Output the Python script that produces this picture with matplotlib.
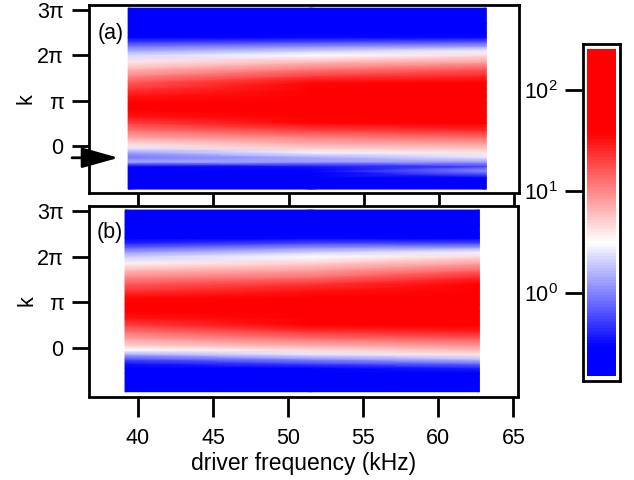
import numpy as np
import matplotlib
matplotlib.use('Agg')
import matplotlib.pyplot as plt
from matplotlib.colors import LinearSegmentedColormap, LogNorm
from matplotlib.ticker import NullLocator, FixedLocator

plt.rcParams['font.family'] = ['Liberation Sans', 'DejaVu Sans']
plt.rcParams['mathtext.fontset'] = 'custom'
plt.rcParams['mathtext.rm'] = 'Liberation Sans'
plt.rcParams['font.size'] = 15.5

# ---------------- data ----------------
# driver frequency columns (kHz)
freq_a = [39.34, 51.5, 63.14]
freq_b = [39.14, 51.5, 62.74]
# wavenumber rows (units of pi)
k_a = [-0.95, -0.7, -0.55, -0.45, -0.35, -0.25, -0.15, -0.05, 0.05, 0.2, 0.35, 0.5, 0.65,
       0.8, 0.95, 1.1, 1.25, 1.4, 1.55, 1.7, 1.85, 2.0, 2.1, 2.2, 2.3, 2.4, 2.5, 2.7, 3.04]
k_b = [-0.966, -0.7, -0.55, -0.45, -0.35, -0.25, -0.15, -0.05, 0.05, 0.2, 0.35, 0.5, 0.65,
       0.8, 0.95, 1.1, 1.25, 1.4, 1.55, 1.7, 1.85, 2.0, 2.1, 2.2, 2.3, 2.4, 2.5, 2.7, 3.02]
# log10 intensity, panel (a)
logI_a_low = [-1.0, -0.9, -0.7, -0.55, 0.15, -0.05, 0.1, 0.4, 0.65, 0.9, 1.1, 1.3, 1.5,
              1.75, 1.65, 1.5, 1.35, 1.2, 1.0, 0.8, 0.6, 0.35, 0.15, -0.05, -0.3, -0.55, -0.7, -0.85, -1.0]
logI_a_mid = [-1.0, -0.9, -0.65, -0.45, 0.1, 0.15, 0.45, 0.7, 0.85, 1.05, 1.3, 1.55, 1.7,
              1.85, 1.8, 1.7, 1.65, 1.55, 1.3, 1.05, 0.8, 0.5, 0.3, 0.05, -0.25, -0.5, -0.7, -0.85, -1.0]
logI_a_high = [-1.0, -0.8, 0.05, -0.25, 0.1, 0.4, 0.6, 0.75, 0.9, 1.15, 1.4, 1.6, 1.75,
               1.85, 1.85, 1.8, 1.7, 1.6, 1.4, 1.2, 0.9, 0.65, 0.45, 0.1, -0.2, -0.5, -0.7, -0.85, -1.0]
# log10 intensity, panel (b)
logI_b_low = [-1.0, -0.9, -0.8, -0.65, -0.45, -0.2, 0.15, 0.5, 0.7, 0.9, 1.1, 1.3, 1.5,
              1.75, 1.65, 1.55, 1.35, 1.2, 1.0, 0.8, 0.55, 0.3, 0.1, -0.15, -0.4, -0.6, -0.75, -0.9, -1.0]
logI_b_mid = [-1.0, -0.9, -0.75, -0.55, -0.25, 0.05, 0.4, 0.65, 0.85, 1.1, 1.35, 1.6, 1.75,
              1.85, 1.8, 1.7, 1.5, 1.35, 1.1, 0.9, 0.7, 0.5, 0.3, 0.05, -0.25, -0.5, -0.7, -0.85, -1.0]
logI_b_high = [-1.0, -0.85, -0.65, -0.4, -0.1, 0.25, 0.6, 0.8, 0.95, 1.2, 1.45, 1.6, 1.75,
               1.85, 1.85, 1.8, 1.7, 1.6, 1.4, 1.15, 0.9, 0.65, 0.45, 0.1, -0.25, -0.55, -0.7, -0.85, -1.0]

ytick_vals = [0, 1, 2, 3]
ytick_labels = ['0', 'π', '2π', '3π']
xtick_vals = [40, 45, 50, 55, 60, 65]
cbar_ticks = [1, 10, 100]
cbar_labels = [r'$\mathregular{10^{0}}$', r'$\mathregular{10^{1}}$', r'$\mathregular{10^{2}}$']
arrow_k = -0.26
arrow_tail_freq = 35.61
arrow_tip_freq = 38.7

# ---------------- style ----------------
W, H = 634, 480
fig = plt.figure(figsize=(W / 100, H / 100), dpi=100)

cmap = LinearSegmentedColormap.from_list('bwr_igor', [(0.0, (0, 0, 1)), (0.488, (1, 1, 1)), (1.0, (1, 0, 0))], N=256)
norm = LogNorm(vmin=10 ** -0.53, vmax=10 ** 1.58)

LW = 2.0

def px_axes(l, r, t, b):
    return fig.add_axes([l / W, 1 - b / H, (r - l) / W, (b - t) / H])

ax_a = px_axes(89, 519, 5, 193)
ax_b = px_axes(89, 518, 205.7, 396.5)

for ax, fr, kk, cols, ylim in [
        (ax_a, freq_a, k_a, (logI_a_low, logI_a_mid, logI_a_high), (-1.037, 3.110)),
        (ax_b, freq_b, k_b, (logI_b_low, logI_b_mid, logI_b_high), (-1.071, 3.116))]:
    X, Y = np.meshgrid(np.array(fr), np.array(kk) * np.pi)
    C = 10 ** np.column_stack(cols)
    ax.pcolormesh(X, Y, C, shading='gouraud', cmap=cmap, norm=norm, rasterized=True)
    ax.set_xlim(36.74, 65.31)
    ax.set_ylim(ylim[0] * np.pi, ylim[1] * np.pi)
    ax.set_yticks(np.array(ytick_vals) * np.pi)
    ax.set_yticklabels(ytick_labels)
    ax.set_xticks(xtick_vals)
    for s in ax.spines.values():
        s.set_linewidth(LW)
    ax.tick_params(axis='y', direction='out', length=12.2, width=LW, pad=6)
    ax.tick_params(axis='x', direction='out', length=14.4, width=LW, pad=8.5)
    ax.set_ylabel('k')
    ax.yaxis.set_label_coords(-0.121, 0.5)

ax_a.tick_params(axis='x', labelbottom=False)
ax_b.set_xlabel('driver frequency (kHz)', fontsize=16.5, labelpad=2)

ax_a.text(0.019, 0.846, '(a)', transform=ax_a.transAxes, ha='left', va='center')
ax_b.text(0.017, 0.857, '(b)', transform=ax_b.transAxes, ha='left', va='center')

ax_a.annotate('', xy=(arrow_tip_freq, arrow_k * np.pi), xytext=(arrow_tail_freq, arrow_k * np.pi),
              xycoords='data', annotation_clip=False,
              arrowprops=dict(arrowstyle='-|>,head_length=1.5,head_width=0.42', mutation_scale=15,
                              lw=LW, color='black', shrinkA=0, shrinkB=0))

# colour bar (outer frame + inner gradient)
cax = px_axes(583, 620, 44, 381)
cax.set_yscale('log')
cax.set_ylim(10 ** -0.867, 10 ** 2.453)
cax.set_xlim(0, 1)
edges = np.logspace(-0.818, 2.404, 110)
mids = np.sqrt(edges[:-1] * edges[1:])
cax.pcolormesh([0.108, 0.892], edges, mids[:, None], cmap=cmap, norm=norm, rasterized=True)
cax.yaxis.set_major_locator(FixedLocator(cbar_ticks))
cax.yaxis.set_minor_locator(NullLocator())
cax.set_yticklabels(cbar_labels)
cax.set_xticks([])
for s in cax.spines.values():
    s.set_linewidth(LW)
cax.tick_params(axis='y', direction='out', length=13, width=LW, pad=5)

fig.savefig('out.png', dpi=100)
